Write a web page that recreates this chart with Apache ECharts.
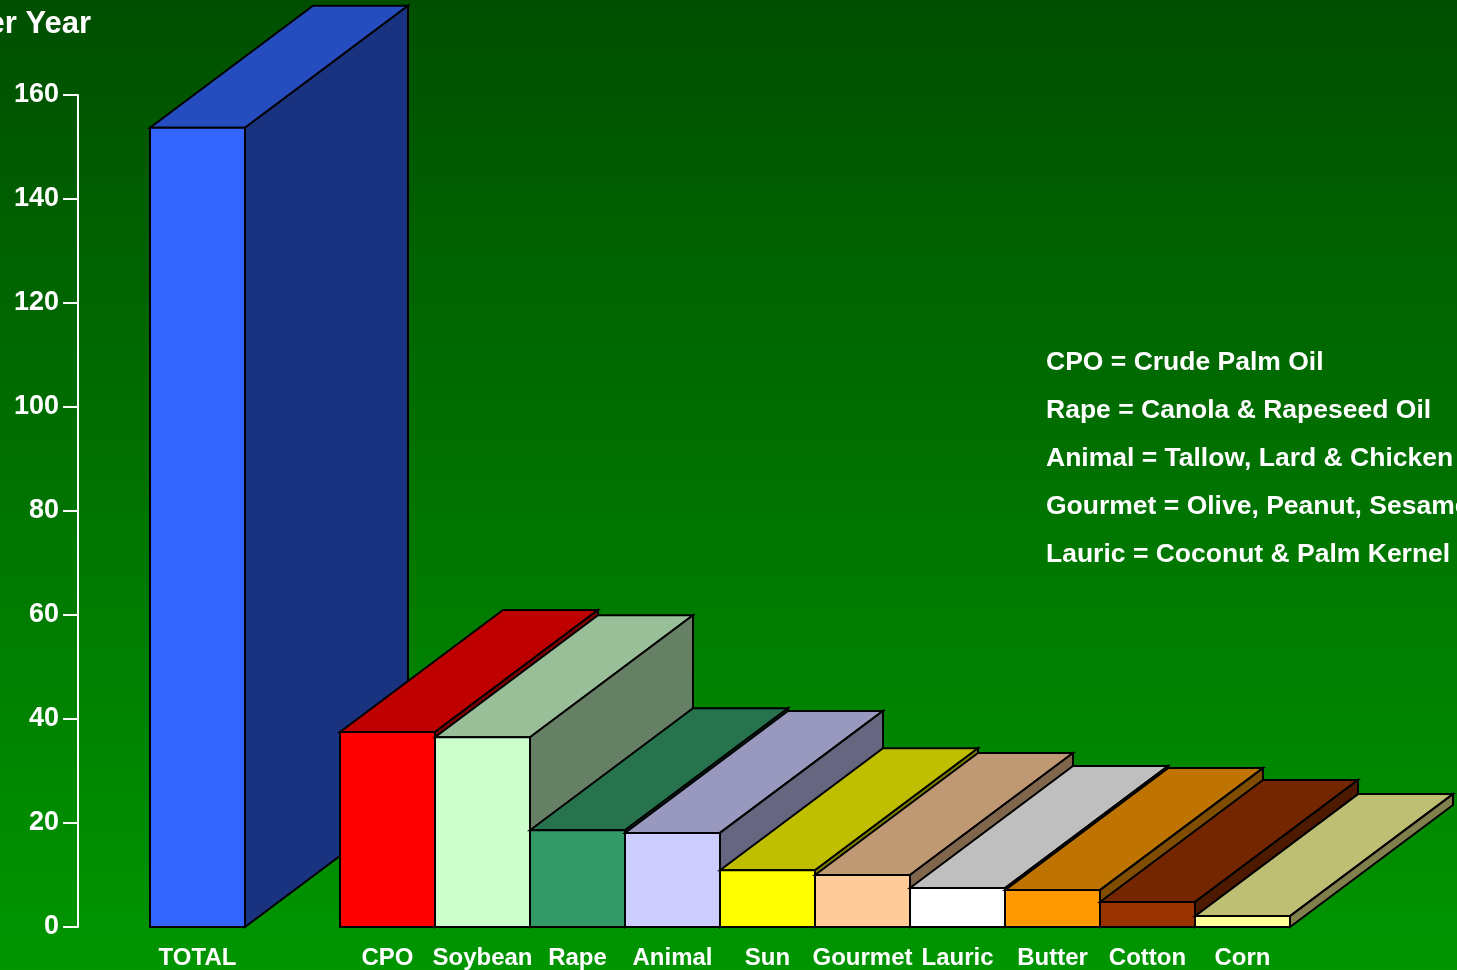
<!DOCTYPE html>
<html>
<head>
<meta charset="utf-8">
<script src="https://cdn.jsdelivr.net/npm/echarts@6/dist/echarts.min.js"></script>
<style>
html,body{margin:0;padding:0;overflow:hidden;}
#chart{width:1457px;height:970px;}
</style>
</head>
<body>
<div id="chart"></div>
<script>
const categories = ['TOTAL', '', 'CPO', 'Soybean', 'Rape', 'Animal', 'Sun', 'Gourmet', 'Lauric', 'Butter', 'Cotton', 'Corn'];
const values = [153.7, null, 37.5, 36.5, 18.6, 18.1, 10.9, 10.0, 7.5, 7.1, 4.8, 2.1];
const frontColors = ['#3366ff', null, '#ff0000', '#ccffcc', '#339966', '#ccccff', '#ffff00', '#ffcc99', '#ffffff', '#ff9900', '#993300', '#ffff99'];
const yTicks = [0, 20, 40, 60, 80, 100, 120, 140, 160];
const titleText = 'per Year';
const notes = [
  'CPO = Crude Palm Oil',
  'Rape = Canola & Rapeseed Oil',
  'Animal = Tallow, Lard & Chicken',
  'Gourmet = Olive, Peanut, Sesame',
  'Lauric = Coconut & Palm Kernel'
];

const DX = 163, DY = -122;
const FONT = '"Liberation Sans", Arial, sans-serif';

function shade(hex, f) {
  const n = parseInt(hex.slice(1), 16);
  const r = Math.round(((n >> 16) & 255) * f);
  const g = Math.round(((n >> 8) & 255) * f);
  const b = Math.round((n & 255) * f);
  return 'rgb(' + r + ',' + g + ',' + b + ')';
}

const data = [];
values.forEach((v, i) => { if (v !== null) data.push([i, v]); });

function renderItem(params, api) {
  const idx = api.value(0);
  const v = api.value(1);
  const top = api.coord([idx, v]);
  const base = api.coord([idx, 0]);
  const w = api.size([1, 0])[0];
  const x0 = top[0] - w / 2, x1 = top[0] + w / 2;
  const yt = top[1], yb = base[1];
  const c = frontColors[idx];
  const st = { stroke: '#000', lineWidth: 2, lineJoin: 'miter' };
  return {
    type: 'group',
    children: [
      { type: 'polygon', shape: { points: [[x0, yt], [x1, yt], [x1 + DX, yt + DY], [x0 + DX, yt + DY]] },
        style: Object.assign({ fill: shade(c, 0.75) }, st) },
      { type: 'polygon', shape: { points: [[x1, yt], [x1 + DX, yt + DY], [x1 + DX, yb + DY], [x1, yb]] },
        style: Object.assign({ fill: shade(c, 0.5) }, st) },
      { type: 'rect', shape: { x: x0, y: yt, width: w, height: yb - yt },
        style: Object.assign({ fill: c }, st) }
    ]
  };
}

const chart = echarts.init(document.getElementById('chart'), null, { renderer: 'canvas' });

const graphics = [
  { type: 'text', x: 91, y: 24,
    style: { text: titleText, fill: '#fff', font: 'bold 31px ' + FONT, textAlign: 'right', textVerticalAlign: 'middle' } }
];
notes.forEach((t, i) => {
  graphics.push({ type: 'text', x: 1046, y: 363 + i * 48,
    style: { text: t, fill: '#fff', font: 'bold 26.5px ' + FONT, textAlign: 'left', textVerticalAlign: 'middle' } });
});

chart.setOption({
  backgroundColor: {
    type: 'linear', x: 0, y: 0, x2: 0, y2: 1,
    colorStops: [{ offset: 0, color: '#004f00' }, { offset: 1, color: '#009600' }]
  },
  animation: false,
  grid: { left: 150, right: 167, top: 95, bottom: 41, containLabel: false },
  xAxis: {
    type: 'category',
    data: categories,
    axisLine: { show: false },
    axisTick: { show: false },
    axisLabel: { color: '#fff', fontWeight: 'bold', fontSize: 24, fontFamily: FONT, margin: 19, interval: 0 }
  },
  yAxis: {
    type: 'value',
    min: yTicks[0], max: yTicks[yTicks.length - 1], interval: 20,
    offset: 72,
    axisLine: { show: true, lineStyle: { color: '#fff', width: 2 } },
    axisTick: { show: true, inside: false, length: 15, lineStyle: { color: '#fff', width: 2 } },
    splitLine: { show: false },
    axisLabel: { color: '#fff', fontWeight: 'bold', fontSize: 27, fontFamily: FONT, margin: 19 }
  },
  series: [{
    type: 'custom',
    renderItem: renderItem,
    data: data,
    encode: { x: 0, y: 1 },
    clip: false
  }],
  graphic: graphics
});
</script>
</body>
</html>
